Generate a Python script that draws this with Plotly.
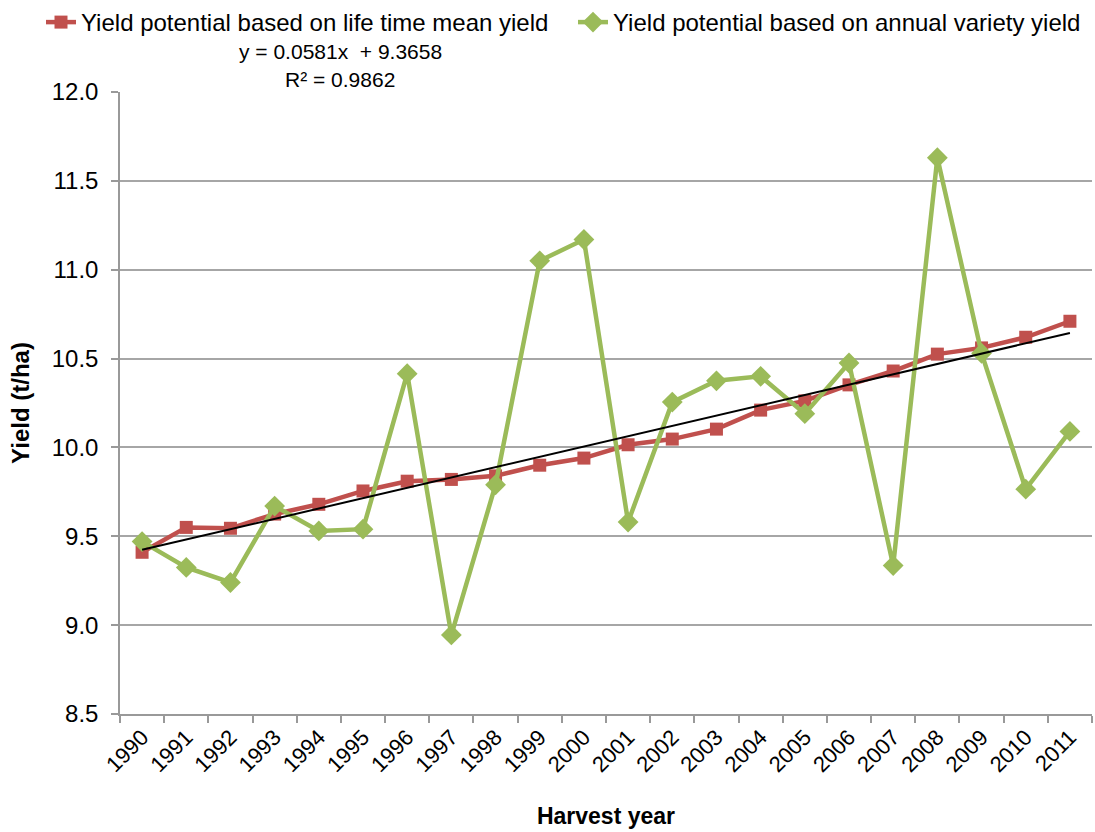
import plotly.graph_objects as go
import numpy as np

years = [str(y) for y in range(1990, 2012)]
lifetime_mean = [9.41, 9.55, 9.545, 9.625, 9.68, 9.755, 9.81, 9.82, 9.84, 9.90, 9.94,
                 10.015, 10.047, 10.103, 10.21, 10.262, 10.352, 10.43, 10.525, 10.56, 10.62, 10.71]
annual_variety = [9.47, 9.325, 9.24, 9.67, 9.53, 9.54, 10.415, 8.945, 9.79, 11.05, 11.17,
                  9.58, 10.255, 10.375, 10.40, 10.19, 10.475, 9.335, 11.63, 10.53, 9.765, 10.09]
trend_slope = 0.0581
trend_intercept = 9.3658

red = "#C0504D"
green = "#9BBB59"
font = "Liberation Sans, Arial, sans-serif"

idx = np.arange(1, len(years) + 1)
trend = trend_intercept + trend_slope * idx

fig = go.Figure()
fig.add_trace(go.Scatter(
    x=years, y=lifetime_mean, mode="lines+markers",
    name="Yield potential based on life time mean yield",
    line=dict(color=red, width=4.5),
    marker=dict(symbol="square", size=13, color=red),
    legend="legend",
))
fig.add_trace(go.Scatter(
    x=years, y=annual_variety, mode="lines+markers",
    name="Yield potential based on annual variety yield",
    line=dict(color=green, width=4.5),
    marker=dict(symbol="diamond", size=16, color=green),
    legend="legend2",
))
fig.add_trace(go.Scatter(
    x=years, y=trend, mode="lines", showlegend=False,
    line=dict(color="black", width=2), hoverinfo="skip",
))

legend_common = dict(
    orientation="h", xref="container", yref="container",
    y=1.0, xanchor="left", yanchor="top",
    font=dict(size=24, family=font), itemwidth=30, bgcolor="rgba(0,0,0,0)",
)

fig.update_layout(
    width=1095, height=832,
    margin=dict(l=120, r=3, t=92, b=118, autoexpand=False),
    paper_bgcolor="white", plot_bgcolor="white",
    font=dict(family=font, size=24, color="black"),
    legend=dict(x=41 / 1095, **legend_common),
    legend2=dict(x=573 / 1095, **legend_common),
    xaxis=dict(
        type="category", range=[-0.5, len(years) - 0.5], automargin=False,
        tickson="boundaries", ticks="outside", ticklen=7, tickcolor="#999999",
        tickwidth=1.5,
        showline=True, linecolor="#999999", linewidth=1.5,
        showgrid=False, tickangle=-45,
        tickfont=dict(size=22, family=font),
        title=dict(text="<b>Harvest year</b>", font=dict(size=23, family=font), standoff=32),
    ),
    yaxis=dict(
        range=[8.5, 12.0], dtick=0.5, tick0=8.5, tickformat=".1f", automargin=False,
        ticks="outside", ticklen=7, tickcolor="#999999", tickwidth=1.5,
        ticklabelstandoff=8,
        showline=True, linecolor="#999999", linewidth=1.5,
        showgrid=True, gridcolor="#A6A6A6", gridwidth=1.5,
        zeroline=False,
        tickfont=dict(size=24, family=font),
        title=dict(text="<b>Yield (t/ha)</b>", font=dict(size=24, family=font)),
    ),
    annotations=[
        dict(text="y = 0.0581x  + 9.3658", xref="paper", yref="paper",
             x=(340 - 120) / 972, y=(714 - 52) / 622, xanchor="center", yanchor="middle",
             showarrow=False, font=dict(size=21, family=font)),
        dict(text="R² = 0.9862", xref="paper", yref="paper",
             x=(340 - 120) / 972, y=(714 - 80) / 622, xanchor="center", yanchor="middle",
             showarrow=False, font=dict(size=21, family=font)),
    ],
)

fig.write_html(
    "out.html",
    config={"displayModeBar": False},
    post_script="document.body.style.margin='0';document.body.style.overflow='hidden';",
)
